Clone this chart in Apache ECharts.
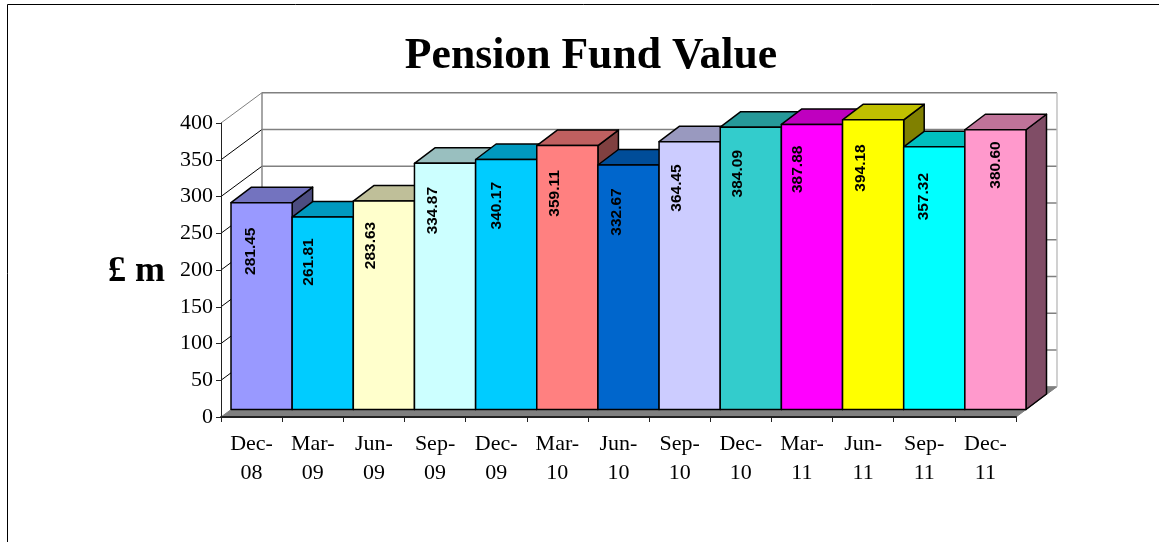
<!DOCTYPE html>
<html>
<head>
<meta charset="utf-8">
<style>html,body{margin:0;padding:0;background:#fff}#c{width:1159px;height:542px}</style>
<script src="https://cdn.jsdelivr.net/npm/echarts@6/dist/echarts.min.js"></script>
</head>
<body>
<div id="c"></div>
<script>
const categories = ['Dec-08','Mar-09','Jun-09','Sep-09','Dec-09','Mar-10','Jun-10','Sep-10','Dec-10','Mar-11','Jun-11','Sep-11','Dec-11'];
const fundValues = [281.45,261.81,283.63,334.87,340.17,359.11,332.67,364.45,384.09,387.88,394.18,357.32,380.60];
const barColors = ['#9999FF','#00CCFF','#FFFFCC','#CCFFFF','#00CCFF','#FF8080','#0066CC','#CCCCFF','#33CCCC','#FF00FF','#FFFF00','#00FFFF','#FF99CC'];
const yTicks = [0,50,100,150,200,250,300,350,400];

const WALL = [41, -30.3];      // full depth of the 3D box
const BAR_NEAR = [10, -7.5];   // front face of the bars, relative to the axes
const BAR_DEPTH = [20.5, -15.5]; // depth of each bar
// Hand placement of the value labels, as in the original: shift from band centre, drop below bar top
const labelShiftX = [-1,-4,-3,-2,1,-3,-2,-3,-3,-4,-2,-1,10];
const labelDropY = [48.6,44.9,44.5,47.3,46.2,47.8,47,46.4,46.5,44.9,48.2,49.8,35.2];

function shade(hex, k) {
  const n = parseInt(hex.slice(1), 16);
  const c = s => Math.round(((n >> s) & 255) * k);
  return 'rgb(' + c(16) + ',' + c(8) + ',' + c(0) + ')';
}

function renderWall(params, api) {
  const cs = params.coordSys;
  const v = api.value(1);
  const y = api.coord([0, v])[1];
  const x0 = cs.x, x1 = cs.x + cs.width;
  const bx0 = x0 + WALL[0], bx1 = x1 + WALL[0], by = y + WALL[1];
  const children = [];
  if (v === 0) {
    children.push({ type: 'polygon', shape: { points: [[x0, y], [x1, y], [bx1, by], [bx0, by]] },
      style: { fill: '#808080', stroke: '#808080', lineWidth: 1 } });
    return { type: 'group', children };
  }
  const diag = v === 400 ? '#808080' : '#000';
  children.push({ type: 'line', shape: { x1: x0, y1: y, x2: bx0, y2: by }, style: { stroke: diag, lineWidth: 1 } });
  children.push({ type: 'line', shape: { x1: bx0, y1: by, x2: bx1, y2: by }, style: { stroke: '#808080', lineWidth: 1.4 } });
  if (v === 400) {
    const yb = api.coord([0, 0])[1] + WALL[1];
    children.push({ type: 'line', shape: { x1: bx0, y1: by, x2: bx0, y2: yb }, style: { stroke: '#808080', lineWidth: 1.4 } });
    children.push({ type: 'line', shape: { x1: bx1, y1: by, x2: bx1, y2: yb }, style: { stroke: '#BDBDBD', lineWidth: 1.4 } });
  }
  return { type: 'group', children };
}

function renderBar(params, api) {
  const i = api.value(0), v = api.value(1);
  const band = api.size([1, 0])[0];
  const top = api.coord([i, v]);
  const base = api.coord([i, 0]);
  const l = base[0] - band / 2 + BAR_NEAR[0], r = l + band;
  const t = top[1] + BAR_NEAR[1] , b = base[1] + BAR_NEAR[1];
  const dx = BAR_DEPTH[0], dy = BAR_DEPTH[1];
  const col = barColors[i];
  const edge = { stroke: '#000', lineWidth: 1.5, lineJoin: 'round' };
  return { type: 'group', children: [
    { type: 'polygon', shape: { points: [[r, t], [r + dx, t + dy], [r + dx, b + dy], [r, b]] },
      style: Object.assign({ fill: shade(col, 0.5) }, edge) },
    { type: 'polygon', shape: { points: [[l, t], [l + dx, t + dy], [r + dx, t + dy], [r, t]] },
      style: Object.assign({ fill: shade(col, 0.75) }, edge) },
    { type: 'rect', shape: { x: l, y: t, width: band, height: b - t },
      style: Object.assign({ fill: col }, edge) },
    { type: 'text', rotation: Math.PI / 2,
      x: base[0] + labelShiftX[i],
      y: t + labelDropY[i],
      style: { text: v.toFixed(2), fontFamily: '"Liberation Sans"', fontWeight: 'bold', fontSize: 15.5,
        fill: '#000', align: 'center', verticalAlign: 'middle' } }
  ] };
}

const chart = echarts.init(document.getElementById('c'), null, { renderer: 'canvas' });
chart.setOption({
  animation: false,
  backgroundColor: '#fff',
  title: {
    text: 'Pension Fund Value', left: 586, top: 29.5, textAlign: 'center',
    textStyle: { fontFamily: '"Liberation Serif"', fontWeight: 'bold', fontSize: 43.7, color: '#000' }
  },
  graphic: [
    { type: 'rect', silent: true, z: -1, shape: { x: 7.5, y: 4.5, width: 1300, height: 700 },
      style: { fill: 'none', stroke: '#000', lineWidth: 1 } },
    { type: 'text', silent: true, x: 165, y: 272,
      style: { text: '£ m', fontFamily: '"Liberation Serif"', fontWeight: 'bold', fontSize: 36, fill: '#000',
        align: 'right', verticalAlign: 'middle' } }
  ],
  grid: { left: 221, top: 123, width: 795, height: 294, containLabel: false },
  xAxis: {
    type: 'category', data: categories, z: 6,
    axisLine: { lineStyle: { color: '#222', width: 2 } },
    axisTick: { show: true, length: 5, alignWithLabel: false, lineStyle: { color: '#222', width: 1 } },
    axisLabel: { interval: 0, margin: 13, lineHeight: 29, fontFamily: '"Liberation Serif"', fontSize: 22, color: '#000',
      formatter: s => s.replace('-', '-\n') }
  },
  yAxis: {
    type: 'value', min: 0, max: 400, interval: 50, z: 6,
    splitLine: { show: false },
    axisLine: { show: true, lineStyle: { color: '#222', width: 1 } },
    axisTick: { show: true, length: 5, lineStyle: { color: '#222', width: 1 } },
    axisLabel: { margin: 8, fontFamily: '"Liberation Serif"', fontSize: 22, color: '#000' }
  },
  series: [
    { type: 'custom', z: 1, clip: false, silent: true, renderItem: renderWall,
      encode: { x: 0, y: 1 }, data: yTicks.map(v => [0, v]) },
    { type: 'custom', z: 3, clip: false, renderItem: renderBar,
      encode: { x: 0, y: 1 }, data: fundValues.map((v, i) => [i, v]) }
  ]
});
</script>
</body>
</html>
